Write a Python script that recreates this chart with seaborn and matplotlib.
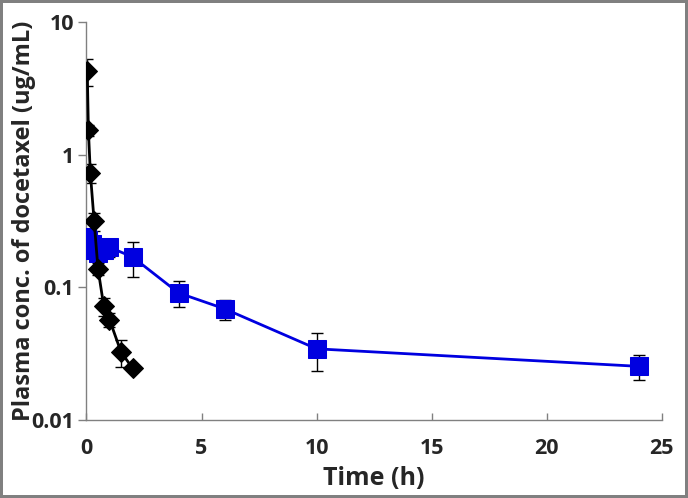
import numpy as np
import pandas as pd
import matplotlib
matplotlib.use('Agg')
import matplotlib.pyplot as plt
import seaborn as sns
from matplotlib.ticker import FixedLocator, FixedFormatter

# black diamonds (solution)
t_sol = [0.033, 0.083, 0.167, 0.333, 0.5, 0.75, 1.0, 1.5, 2.0]
c_sol = [4.27, 1.53, 0.73, 0.313, 0.138, 0.072, 0.057, 0.0325, 0.0245]
sd_sol = [1.0, 0.15, 0.125, 0.05, 0.015, 0.011, 0.007, 0.0075, 0.0]

# blue squares (formulation)
t_form = [0.033, 0.083, 0.167, 0.25, 0.5, 0.75, 1.0, 2.0, 4.0, 6.0, 10.0, 24.0]
c_form = [0.24, 0.225, 0.19, 0.21, 0.18, 0.19, 0.20, 0.169, 0.0905, 0.0687, 0.0343, 0.0253]
sd_form = [0.03, 0.03, 0.02, 0.03, 0.02, 0.02, 0.03, 0.05, 0.02, 0.012, 0.011, 0.0055]

y_ticks = [0.01, 0.1, 1, 10]
y_labels = ['0.01', '0.1', '1', '10']
x_ticks = [0, 5, 10, 15, 20, 25]

sns.set_style('white')
plt.rcParams['font.family'] = ['Open Sans', 'DejaVu Sans']
plt.rcParams['font.weight'] = 'bold'

fig = plt.figure(figsize=(6.88, 4.98), dpi=100, edgecolor='#808080', linewidth=4)
ax = fig.add_axes([0.1257, 0.157, 0.962 - 0.1257, 0.956 - 0.157])

df_sol = pd.DataFrame({'t': t_sol, 'c': c_sol})
df_form = pd.DataFrame({'t': t_form, 'c': c_form})

ax.errorbar(t_sol, c_sol, yerr=sd_sol, fmt='none', ecolor='black',
            elinewidth=1, capsize=4.5, capthick=1, zorder=2)
ax.errorbar(t_form, c_form, yerr=sd_form, fmt='none', ecolor='black',
            elinewidth=1, capsize=4.5, capthick=1, zorder=2)

sns.lineplot(data=df_form, x='t', y='c', ax=ax, color='#0000E0', lw=2,
             marker='s', markersize=13, markeredgecolor='#0000E0', zorder=3)
sns.lineplot(data=df_sol, x='t', y='c', ax=ax, color='black', lw=2,
             marker='D', markersize=10, markeredgecolor='black', zorder=4)

ax.set_yscale('log')
ax.set_ylim(0.01, 10)
ax.set_xlim(0, 25)
ax.yaxis.set_major_locator(FixedLocator(y_ticks))
ax.yaxis.set_major_formatter(FixedFormatter(y_labels))
ax.yaxis.set_minor_locator(FixedLocator([]))
ax.set_xticks(x_ticks)

for s in ['top', 'right']:
    ax.spines[s].set_visible(False)
for s in ['left', 'bottom']:
    ax.spines[s].set_color('#808080')
    ax.spines[s].set_linewidth(1)

ax.tick_params(axis='y', direction='out', length=6, color='#808080', width=1,
               labelsize=15.5, pad=3, left=True)
ax.tick_params(axis='x', direction='in', length=5, color='#808080', width=1,
               labelsize=15.5, pad=13, bottom=True)
for lbl in ax.get_xticklabels() + ax.get_yticklabels():
    lbl.set_fontweight('bold')

ax.set_xlabel('Time (h)', fontsize=18, fontweight='bold', labelpad=0)
ax.set_ylabel('Plasma conc. of docetaxel (ug/mL)', fontsize=17, fontweight='bold')
ax.xaxis.set_label_coords(0.5, -0.115)
ax.yaxis.set_label_coords(-0.088, 0.5)

fig.savefig('out.png', dpi=100, edgecolor=fig.get_edgecolor())
